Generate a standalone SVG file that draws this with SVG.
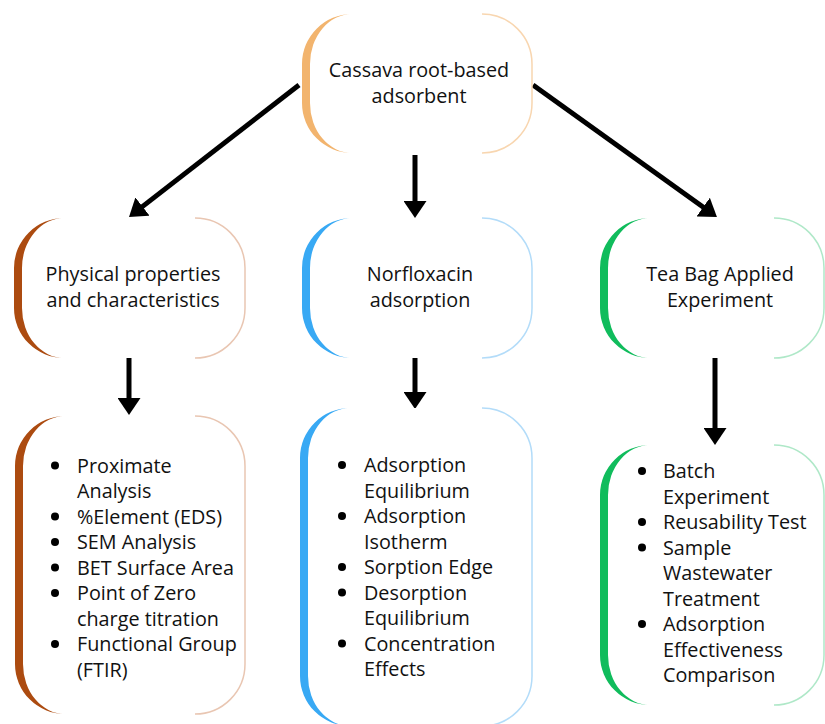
<svg xmlns="http://www.w3.org/2000/svg" width="825" height="724" viewBox="0 0 825 724">
<style>
.bg{fill:#ffffff;stroke:none}
.thin{fill:none;stroke-width:1.5}
.t{font-family:"Open Sans","Noto Sans","Liberation Sans",sans-serif;font-size:19.8px;fill:#111111}
.c{text-anchor:middle}
.b{fill:#000}
.arr{stroke:#000;stroke-width:5;fill:none;marker-end:url(#ah)}
</style>
<defs>
<marker id="ah" markerUnits="userSpaceOnUse" markerWidth="18" markerHeight="23" refX="5" refY="11.5" orient="auto">
<path d="M0,0 L17,11.5 L0,23 Z" fill="#000"/>
</marker>
</defs>
<rect width="825" height="724" fill="#ffffff"/>

<g id="connectors">
<line class="arr" x1="299" y1="85" x2="138.5" y2="209.6"/>
<line class="arr" x1="415" y1="155" x2="415" y2="206"/>
<line class="arr" x1="533" y1="85" x2="707.2" y2="210"/>
<line class="arr" x1="129" y1="358" x2="129" y2="403"/>
<line class="arr" x1="415" y1="358" x2="415" y2="397"/>
<line class="arr" x1="715" y1="358" x2="715" y2="433"/>
</g>

<g id="root">
<rect class="bg" x="302" y="14" width="230" height="139" rx="50"/>
<path fill="#F2B46E" d="M352,14 A50,50 0 0 0 302,64 L302,103 A50,50 0 0 0 352,153 A42,50 0 0 1 310,103 L310,64 A42,50 0 0 1 352,14 Z"/>
<path class="thin" stroke="#F8D6B0" d="M482,14 A50,50 0 0 1 532,64 L532,103 A50,50 0 0 1 482,153"/>
<text class="t c" x="419" y="77">Cassava root-based</text>
<text class="t c" x="419" y="102.5">adsorbent</text>
</g>

<g id="physical">
<rect class="bg" x="14" y="218" width="231" height="140" rx="50"/>
<path fill="#AC4B10" d="M64,218 A50,50 0 0 0 14,268 L14,308 A50,50 0 0 0 64,358 A42,50 0 0 1 22,308 L22,268 A42,50 0 0 1 64,218 Z"/>
<path class="thin" stroke="#E9C6B2" d="M195,218 A50,50 0 0 1 245,268 L245,308 A50,50 0 0 1 195,358"/>
<text class="t c" x="133" y="281">Physical properties</text>
<text class="t c" x="133" y="306.5">and characteristics</text>
</g>

<g id="norfloxacin">
<rect class="bg" x="302" y="218" width="230" height="140" rx="50"/>
<path fill="#38A9F4" d="M352,218 A50,50 0 0 0 302,268 L302,308 A50,50 0 0 0 352,358 A42,50 0 0 1 310,308 L310,268 A42,50 0 0 1 352,218 Z"/>
<path class="thin" stroke="#B3DCF9" d="M482,218 A50,50 0 0 1 532,268 L532,308 A50,50 0 0 1 482,358"/>
<text class="t c" x="420" y="281">Norfloxacin</text>
<text class="t c" x="420" y="306.5">adsorption</text>
</g>

<g id="teabag">
<rect class="bg" x="600" y="218" width="224" height="140" rx="50"/>
<path fill="#10BC5C" d="M650,218 A50,50 0 0 0 600,268 L600,308 A50,50 0 0 0 650,358 A42,50 0 0 1 608,308 L608,268 A42,50 0 0 1 650,218 Z"/>
<path class="thin" stroke="#AFE8C8" d="M774,218 A50,50 0 0 1 824,268 L824,308 A50,50 0 0 1 774,358"/>
<text class="t c" x="720" y="281">Tea Bag Applied</text>
<text class="t c" x="720" y="306.5">Experiment</text>
</g>

<g id="physical-list">
<rect class="bg" x="15" y="416" width="230" height="298" rx="50"/>
<path fill="#AC4B10" d="M65,416 A50,50 0 0 0 15,466 L15,664 A50,50 0 0 0 65,714 A42,50 0 0 1 23,664 L23,466 A42,50 0 0 1 65,416 Z"/>
<path class="thin" stroke="#E9C6B2" d="M195,416 A50,50 0 0 1 245,466 L245,664 A50,50 0 0 1 195,714"/>
<circle class="b" cx="55" cy="465.5" r="4"/>
<circle class="b" cx="55" cy="516.5" r="4"/>
<circle class="b" cx="55" cy="542" r="4"/>
<circle class="b" cx="55" cy="567.5" r="4"/>
<circle class="b" cx="55" cy="593" r="4"/>
<circle class="b" cx="55" cy="644" r="4"/>
<text class="t" x="77" y="472.5">Proximate</text>
<text class="t" x="77" y="498">Analysis</text>
<text class="t" x="77" y="523.5">%Element (EDS)</text>
<text class="t" x="77" y="549">SEM Analysis</text>
<text class="t" x="77" y="574.5">BET Surface Area</text>
<text class="t" x="77" y="600">Point of Zero</text>
<text class="t" x="77" y="625.5">charge titration</text>
<text class="t" x="77" y="651">Functional Group</text>
<text class="t" x="77" y="676.5">(FTIR)</text>
</g>

<g id="norfloxacin-list">
<rect class="bg" x="300" y="408" width="232" height="318" rx="50"/>
<path fill="#38A9F4" d="M350,408 A50,50 0 0 0 300,458 L300,676 A50,50 0 0 0 350,726 A42,50 0 0 1 308,676 L308,458 A42,50 0 0 1 350,408 Z"/>
<path class="thin" stroke="#B3DCF9" d="M482,408 A50,50 0 0 1 532,458 L532,676 A50,50 0 0 1 482,726"/>
<circle class="b" cx="342" cy="465" r="4"/>
<circle class="b" cx="342" cy="516" r="4"/>
<circle class="b" cx="342" cy="567" r="4"/>
<circle class="b" cx="342" cy="592.5" r="4"/>
<circle class="b" cx="342" cy="643.5" r="4"/>
<text class="t" x="364" y="472">Adsorption</text>
<text class="t" x="364" y="497.5">Equilibrium</text>
<text class="t" x="364" y="523">Adsorption</text>
<text class="t" x="364" y="548.5">Isotherm</text>
<text class="t" x="364" y="574">Sorption Edge</text>
<text class="t" x="364" y="599.5">Desorption</text>
<text class="t" x="364" y="625">Equilibrium</text>
<text class="t" x="364" y="650.5">Concentration</text>
<text class="t" x="364" y="676">Effects</text>
</g>

<g id="teabag-list">
<rect class="bg" x="600" y="445" width="224" height="260" rx="50"/>
<path fill="#10BC5C" d="M650,445 A50,50 0 0 0 600,495 L600,655 A50,50 0 0 0 650,705 A42,50 0 0 1 608,655 L608,495 A42,50 0 0 1 650,445 Z"/>
<path class="thin" stroke="#AFE8C8" d="M774,445 A50,50 0 0 1 824,495 L824,655 A50,50 0 0 1 774,705"/>
<circle class="b" cx="642" cy="471" r="4"/>
<circle class="b" cx="642" cy="522" r="4"/>
<circle class="b" cx="642" cy="547.5" r="4"/>
<circle class="b" cx="642" cy="624" r="4"/>
<text class="t" x="663" y="478">Batch</text>
<text class="t" x="663" y="503.5">Experiment</text>
<text class="t" x="663" y="529">Reusability Test</text>
<text class="t" x="663" y="554.5">Sample</text>
<text class="t" x="663" y="580">Wastewater</text>
<text class="t" x="663" y="605.5">Treatment</text>
<text class="t" x="663" y="631">Adsorption</text>
<text class="t" x="663" y="656.5">Effectiveness</text>
<text class="t" x="663" y="682">Comparison</text>
</g>
</svg>
